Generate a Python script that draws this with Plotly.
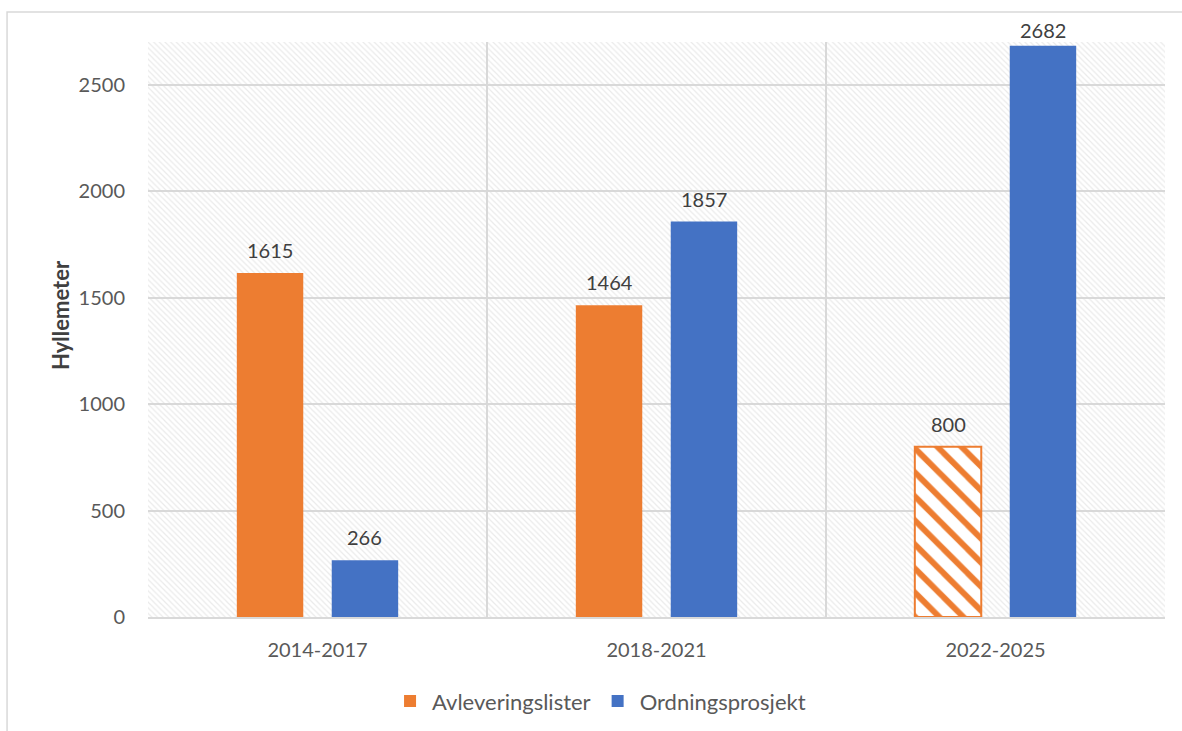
import plotly.graph_objects as go

categories = ["2014-2017", "2018-2021", "2022-2025"]
avlevering = [1615, 1464, 800]
avlevering_estimate = [False, False, True]   # last period is hatched (planned)
ordning = [266, 1857, 2682]
series_names = ["Avleveringslister", "Ordningsprosjekt"]
y_title = "Hyllemeter"
y_ticks = [0, 500, 1000, 1500, 2000, 2500]
y_max = 2700

ORANGE = "#ED7D31"
BLUE = "#4472C4"
GRID = "#D9D9D9"
FONT = "Lato, Open Sans, sans-serif"

W, H = 1182, 731
ML, MR, MT, MB = 148, 17, 42, 114
BARGAP, GROUPGAP = 0.44, 0.30
plot_w = W - ML - MR
plot_h = H - MT - MB
px_per_cat = plot_w / len(categories)
bar_shift = (1 - BARGAP) / 4 * px_per_cat

fig = go.Figure()

# hatched plot-area background on helper linear axis "x"
fig.add_trace(go.Bar(
    x=[len(categories) / 2], y=[y_max], width=[len(categories)], xaxis="x",
    marker=dict(color="rgba(0,0,0,0)", line=dict(width=0),
                pattern=dict(shape="\\", fgcolor="#D6D6D6", bgcolor="rgba(0,0,0,0)",
                             size=4, solidity=0.3, fillmode="overlay")),
    hoverinfo="skip", showlegend=False,
))

solid_x = [c for c, e in zip(categories, avlevering_estimate) if not e]
solid_y = [v for v, e in zip(avlevering, avlevering_estimate) if not e]
hatch_x = [c for c, e in zip(categories, avlevering_estimate) if e]
hatch_y = [v for v, e in zip(avlevering, avlevering_estimate) if e]

fig.add_trace(go.Bar(
    name=series_names[0], x=solid_x, y=solid_y, xaxis="x2", offsetgroup="a",
    marker=dict(color=ORANGE, line=dict(width=0)), legendgroup="a",
))
fig.add_trace(go.Bar(
    name=series_names[0], x=hatch_x, y=hatch_y, xaxis="x2", offsetgroup="a",
    marker=dict(color=ORANGE, line=dict(color=ORANGE, width=2),
                pattern=dict(shape="\\", fgcolor=ORANGE, bgcolor="white",
                             size=17, solidity=0.35, fillmode="replace")),
    legendgroup="a", showlegend=False,
))
fig.add_trace(go.Bar(
    name=series_names[1], x=categories, y=ordning, xaxis="x2", offsetgroup="b",
    marker=dict(color=BLUE, line=dict(width=0)),
))

annotations = []
LABEL_H = 20
for vals, sh in ((avlevering, -bar_shift), (ordning, bar_shift)):
    for c, v in zip(categories, vals):
        top_px = MT + (1 - v / y_max) * plot_h
        # keep label inside chart area (as the original does for the tallest bar)
        ys = min(9, top_px - 24 - LABEL_H)
        annotations.append(dict(
            x=c, y=v, xref="x2", yref="y", text=str(v), showarrow=False,
            xshift=sh, yshift=ys, yanchor="bottom",
            font=dict(size=20, color="#404040", family=FONT),
        ))

annotations.append(dict(
    text="<b>" + y_title + "</b>", textangle=-90, showarrow=False,
    xref="paper", yref="paper", x=(60 - ML) / plot_w, y=(MT + plot_h - 315) / plot_h,
    xanchor="center", yanchor="middle",
    font=dict(size=22, color="#404040", family=FONT),
))

fig.update_layout(
    width=W, height=H,
    margin=dict(l=ML, r=MR, t=MT, b=MB, autoexpand=False),
    paper_bgcolor="white", plot_bgcolor="white",
    barmode="group", bargap=BARGAP, bargroupgap=GROUPGAP,
    font=dict(family=FONT, color="#595959", size=20),
    xaxis=dict(
        range=[0, len(categories)], showgrid=True, gridcolor=GRID, gridwidth=1.5,
        tickvals=list(range(len(categories) + 1)), showticklabels=False,
        zeroline=False, showline=False, ticks="",
    ),
    xaxis2=dict(
        type="category", overlaying="x", side="bottom", showgrid=False,
        showline=True, linecolor=GRID, linewidth=1.5,
        ticks="", tickfont=dict(size=20, color="#595959"), ticklabelstandoff=14,
        zeroline=False,
    ),
    yaxis=dict(
        range=[0, y_max], tickvals=y_ticks, showgrid=True, gridcolor=GRID, gridwidth=1.5,
        zeroline=False, showline=False, ticks="", tickfont=dict(size=20, color="#595959"),
        ticklabelstandoff=22,
    ),
    legend=dict(
        orientation="h", x=0.444, xanchor="center", y=-0.11, yanchor="top",
        font=dict(size=22, color="#595959"), traceorder="normal",
        itemwidth=34,
    ),
    annotations=annotations,
    shapes=[dict(type="rect", xref="paper", yref="paper",
                 x0=-0.1386, x1=1.05, y0=-0.25, y1=1.0522,
                 line=dict(color=GRID, width=1.5), fillcolor="rgba(0,0,0,0)", layer="below")],
)

fig.write_html("out.html")
